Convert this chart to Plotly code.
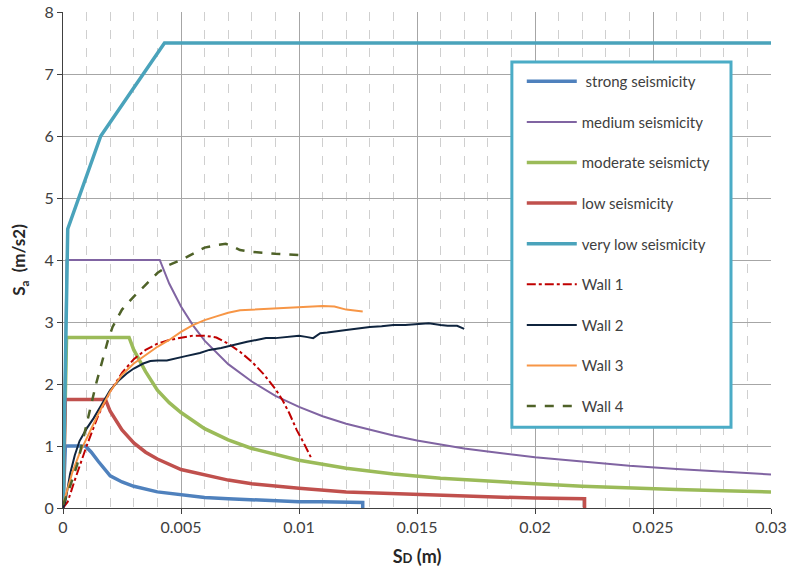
import plotly.graph_objects as go

# ---------------- data ----------------
strong_x = [0, 0.0001, 0.00095, 0.0012, 0.0015, 0.002, 0.0025, 0.003, 0.004, 0.005, 0.006, 0.007,
            0.008, 0.009, 0.01, 0.011, 0.012, 0.0127, 0.0127]
strong_y = [0, 1.0, 1.0, 0.9, 0.75, 0.52, 0.42, 0.35, 0.26, 0.21, 0.17, 0.15,
            0.13, 0.11, 0.1, 0.1, 0.09, 0.09, 0]

medium_x = [0, 0.00015, 0.0041, 0.0045, 0.005, 0.0055, 0.006, 0.007, 0.008, 0.009, 0.01, 0.011,
            0.012, 0.013, 0.014, 0.015, 0.016, 0.017, 0.018, 0.019, 0.02, 0.022, 0.024,
            0.026, 0.028, 0.03]
medium_y = [0, 4.0, 4.0, 3.62, 3.25, 2.95, 2.7, 2.32, 2.04, 1.81, 1.63, 1.48,
            1.36, 1.26, 1.17, 1.09, 1.02, 0.96, 0.91, 0.86, 0.82, 0.75, 0.68,
            0.63, 0.59, 0.54]

moderate_x = [0, 0.00015, 0.0028, 0.003, 0.0035, 0.004, 0.0045, 0.005, 0.006, 0.007, 0.008, 0.009,
              0.01, 0.012, 0.014, 0.016, 0.018, 0.02, 0.022, 0.024, 0.026, 0.028, 0.03]
moderate_y = [0, 2.75, 2.75, 2.55, 2.2, 1.9, 1.7, 1.54, 1.28, 1.1, 0.96, 0.86,
              0.77, 0.64, 0.55, 0.48, 0.43, 0.39, 0.35, 0.32, 0.3, 0.28, 0.26]

low_x = [0, 0.0001, 0.0018, 0.002, 0.0025, 0.003, 0.0035, 0.004, 0.005, 0.006, 0.007, 0.008,
         0.009, 0.01, 0.012, 0.014, 0.016, 0.018, 0.02, 0.022, 0.0221, 0.0221]
low_y = [0, 1.75, 1.75, 1.56, 1.26, 1.05, 0.9, 0.79, 0.62, 0.53, 0.45, 0.39,
         0.35, 0.32, 0.26, 0.23, 0.2, 0.18, 0.16, 0.15, 0.15, 0]

verylow_x = [0, 0.0002, 0.0016, 0.0043, 0.03]
verylow_y = [0, 4.5, 6.0, 7.5, 7.5]

wall1_x = [0, 0.0002, 0.0005, 0.001, 0.0015, 0.002, 0.0025, 0.003, 0.0035, 0.004, 0.0045, 0.005,
           0.0055, 0.006, 0.0065, 0.007, 0.0075, 0.008, 0.0085, 0.009, 0.0093, 0.0096, 0.0099,
           0.0102, 0.0105]
wall1_y = [0, 0.1, 0.45, 1.0, 1.5, 1.88, 2.18, 2.4, 2.55, 2.65, 2.71, 2.75,
           2.78, 2.78, 2.75, 2.65, 2.52, 2.36, 2.16, 1.92, 1.74, 1.52, 1.26,
           1.05, 0.82]

wall2_x = [0, 0.0001, 0.0003, 0.0005, 0.0007, 0.001, 0.0013, 0.0016, 0.002, 0.0024, 0.0027, 0.003,
           0.0034, 0.0037, 0.004, 0.0044, 0.0048, 0.0052, 0.0058, 0.0062, 0.0067, 0.0072, 0.0078,
           0.0082, 0.0086, 0.009, 0.0094, 0.01, 0.0103, 0.0106, 0.0109, 0.0112, 0.012, 0.0125,
           0.013, 0.0135, 0.014, 0.0145, 0.015, 0.0155, 0.016, 0.0163, 0.0167, 0.017]
wall2_y = [0, 0.1, 0.55, 0.85, 1.08, 1.28, 1.45, 1.65, 1.9, 2.07, 2.17, 2.25,
           2.33, 2.37, 2.38, 2.38, 2.41, 2.45, 2.5, 2.55, 2.58, 2.63, 2.68,
           2.71, 2.74, 2.74, 2.76, 2.78, 2.76, 2.74, 2.82, 2.83, 2.87, 2.9,
           2.92, 2.93, 2.95, 2.95, 2.96, 2.98, 2.95, 2.94, 2.94, 2.89]

wall3_x = [0, 0.0002, 0.0004, 0.0007, 0.001, 0.0015, 0.002, 0.0025, 0.003, 0.0035, 0.004, 0.0045,
           0.005, 0.0055, 0.006, 0.0065, 0.007, 0.0075, 0.008, 0.009, 0.01, 0.011, 0.0115,
           0.012, 0.0127]
wall3_y = [0.05, 0.3, 0.58, 0.88, 1.12, 1.52, 1.88, 2.15, 2.33, 2.47, 2.6, 2.71,
           2.84, 2.95, 3.03, 3.09, 3.15, 3.19, 3.2, 3.23, 3.25, 3.26, 3.25,
           3.2, 3.17]

wall4_x = [0, 0.0003, 0.0006, 0.001, 0.0014, 0.0019, 0.0021, 0.0025, 0.003, 0.0035, 0.004, 0.0045,
           0.005, 0.0055, 0.006, 0.0065, 0.0069, 0.0072, 0.0075, 0.008, 0.0085, 0.009, 0.0095,
           0.01]
wall4_y = [0.05, 0.35, 0.7, 1.37, 2.0, 2.7, 2.92, 3.2, 3.41, 3.6, 3.79, 3.92,
           4.0, 4.1, 4.2, 4.24, 4.26, 4.22, 4.16, 4.13, 4.11, 4.1, 4.09,
           4.08]

x_tickvals = [0, 0.005, 0.01, 0.015, 0.02, 0.025, 0.03]
x_ticktext = ["0", "0.005", "0.01", "0.015", "0.02", "0.025", "0.03"]
y_tickvals = [0, 1, 2, 3, 4, 5, 6, 7, 8]

# ---------------- figure ----------------
series = [
    ("\u00a0strong seismicity", strong_x, strong_y, "#4F81BD", 3.5, "solid"),
    ("medium seismicity", medium_x, medium_y, "#8064A2", 2, "solid"),
    ("moderate seismicty", moderate_x, moderate_y, "#9BBB59", 3.5, "solid"),
    ("low seismicity", low_x, low_y, "#C0504D", 3.5, "solid"),
    ("very low seismicity", verylow_x, verylow_y, "#4AA3BB", 3.5, "solid"),
    ("Wall 1", wall1_x, wall1_y, "#C00000", 2, "dashdot"),
    ("Wall 2", wall2_x, wall2_y, "#0F243E", 2, "solid"),
    ("Wall 3", wall3_x, wall3_y, "#F79646", 2, "solid"),
    ("Wall 4", wall4_x, wall4_y, "#4F6228", 2.5, "dash"),
]

fig = go.Figure()
for i, (name, xs, ys, col, w, dash) in enumerate(series):
    fig.add_trace(go.Scatter(
        x=xs, y=ys, mode="lines", name=name, legendgroup=f"g{i}",
        line=dict(color=col, width=w, dash=dash),
    ))

font_family = "Lato, 'Open Sans', sans-serif"

# legend frame (white box with teal border), drawn above the plot lines
fig.add_shape(
    type="rect", xref="paper", yref="paper",
    x0=0.634, x1=0.9435, y0=0.163, y1=0.899,
    line=dict(color="#4BACC6", width=3), fillcolor="white", layer="above",
)

fig.update_layout(
    width=788, height=571,
    margin=dict(l=63, r=17, t=12, b=63),
    paper_bgcolor="white", plot_bgcolor="white",
    font=dict(family=font_family, size=16, color="#404040"),
    showlegend=True,
    legend=dict(
        x=0.648, y=0.893, xanchor="left", yanchor="top",
        bgcolor="rgba(0,0,0,0)", borderwidth=0,
        font=dict(family=font_family, size=15, color="#404040"),
        tracegroupgap=18.1, itemwidth=50,
    ),
)

fig.update_xaxes(
    range=[0, 0.03], tickvals=x_tickvals, ticktext=x_ticktext,
    automargin=False,
    showline=True, linecolor="#404040", linewidth=1,
    ticks="outside", ticklen=5, tickcolor="#404040",
    showgrid=True, gridcolor="#A6A6A6", gridwidth=1,
    minor=dict(dtick=0.001, showgrid=True, griddash="dash", gridcolor="#CFCFCF", gridwidth=1, ticks=""),
    zeroline=False,
    tickfont=dict(size=16, color="#404040"),
    title=dict(text="<b>S<span style='font-size:13px'>D</span> (m)</b>",
               font=dict(size=18, color="#262626"), standoff=15),
)
fig.update_yaxes(
    range=[0, 8], tickvals=y_tickvals,
    automargin=False,
    showline=True, linecolor="#404040", linewidth=1,
    ticks="outside", ticklen=5, tickcolor="#404040",
    showgrid=True, gridcolor="#A6A6A6", gridwidth=1,
    zeroline=False,
    tickfont=dict(size=16, color="#404040"),
    title=dict(text="<b>S<sub>a</sub>  (m/s2)</b>",
               font=dict(size=17, color="#262626"), standoff=14),
)

fig.write_html("out.html")
